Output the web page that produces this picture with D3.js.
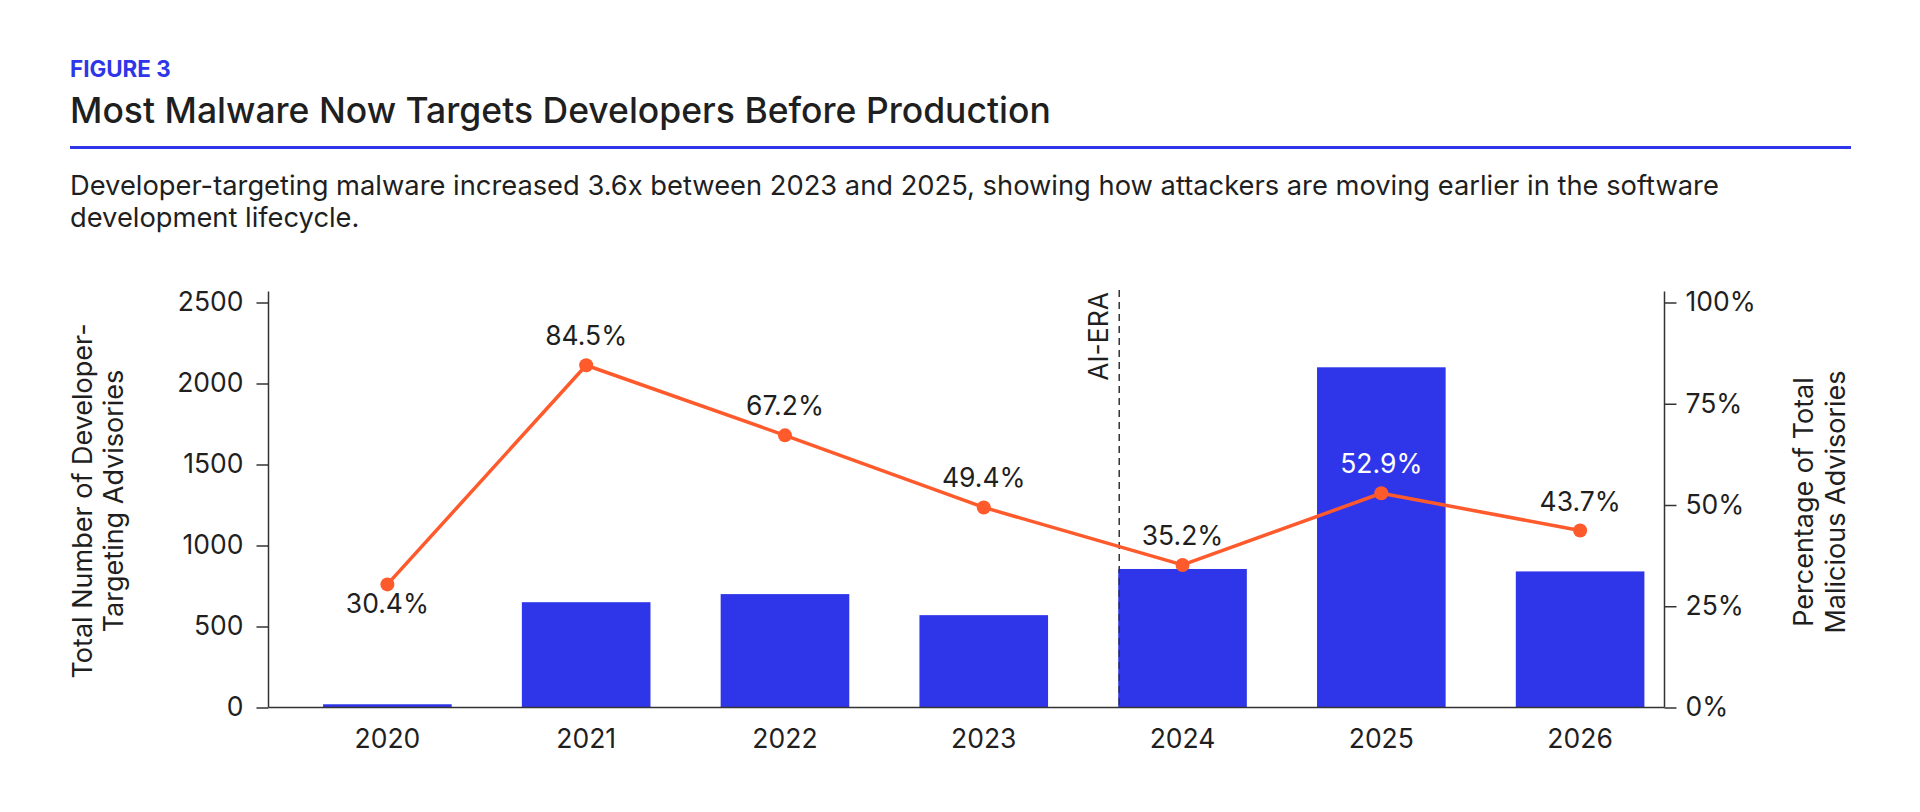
<!DOCTYPE html>
<html>
<head>
<meta charset="utf-8">
<script src="https://cdn.jsdelivr.net/npm/d3@7"></script>
<style>
  html, body { margin: 0; padding: 0; background: #fff; }
  svg { display: block; font-family: Inter, "Noto Sans", sans-serif; }
</style>
</head>
<body>
<div id="chart"></div>
<script>
// valores
const years = ["2020", "2021", "2022", "2023", "2024", "2025", "2026"];
const advisories = [20, 650, 700, 570, 855, 2100, 840];
const shareOfMalicious = [30.4, 84.5, 67.2, 49.4, 35.2, 52.9, 43.7];
const countTicks = [0, 500, 1000, 1500, 2000, 2500];
const pctTicks = [0, 25, 50, 75, 100];
const eraStart = "2024";

const BLUE = "#2f36e9";
const ORANGE = "#ff5a2c";
const INK = "#1f1f1f";
const NUM_SIZE = "26.5px";
const TITLE_SIZE = "27px";

const W = 1920, H = 812;
const svg = d3.select("#chart").append("svg").attr("width", W).attr("height", H);

// cabeçalho
svg.append("text").attr("x", 70).attr("y", 77)
  .attr("fill", BLUE).style("font-size", "22.4px").style("font-weight", 700)
  .text("FIGURE 3");

svg.append("text").attr("x", 70).attr("y", 123)
  .attr("fill", INK).style("font-size", "35.5px").style("font-weight", 500)
  .text("Most Malware Now Targets Developers Before Production");

svg.append("line").attr("x1", 70).attr("x2", 1851).attr("y1", 147.5).attr("y2", 147.5)
  .attr("stroke", BLUE).attr("stroke-width", 3);

const sub = svg.append("text").attr("fill", INK).style("font-size", "27.3px");
sub.append("tspan").attr("x", 70).attr("y", 195)
  .text("Developer-targeting malware increased 3.6x between 2023 and 2025, showing how attackers are moving earlier in the software");
sub.append("tspan").attr("x", 70).attr("y", 227).text("development lifecycle.");

// area do grafico
const plotLeft = 268.5, plotRight = 1664.5, plotBottom = 707.5, plotTop = 302.5;

const x = d3.scaleBand().domain(years).range([288, 1679.5])
  .paddingInner(0.353).paddingOuter(0.1765);
const yCount = d3.scaleLinear().domain([0, 2500]).range([plotBottom, plotTop]);
const yPct = d3.scaleLinear().domain([0, 100]).range([plotBottom, plotTop]);

const rows = years.map((yr, i) => ({ year: yr, count: advisories[i], pct: shareOfMalicious[i] }));

const g = svg.append("g");

// barras
g.selectAll(".bar").data(rows).enter().append("rect")
  .attr("class", "bar")
  .attr("x", d => x(d.year))
  .attr("width", x.bandwidth())
  .attr("y", d => yCount(d.count))
  .attr("height", d => plotBottom - yCount(d.count))
  .attr("fill", BLUE);

// eixos
const axisStyle = sel => {
  sel.select(".domain").remove();
  sel.selectAll(".tick line").attr("stroke", "#333").attr("stroke-width", 1.5);
  sel.selectAll(".tick text").attr("fill", INK).style("font-size", NUM_SIZE)
    .style("font-family", "Inter, 'Noto Sans', sans-serif");
};

g.append("g").attr("transform", `translate(${plotLeft},0)`)
  .call(d3.axisLeft(yCount).tickValues(countTicks).tickSize(12).tickPadding(13).tickFormat(d3.format("d")))
  .call(axisStyle);

g.append("g").attr("transform", `translate(${plotRight},0)`)
  .call(d3.axisRight(yPct).tickValues(pctTicks).tickSize(12).tickPadding(9).tickFormat(d => d + "%"))
  .call(axisStyle);

g.append("g").attr("transform", `translate(0,${plotBottom})`)
  .call(d3.axisBottom(x).tickSize(0).tickPadding(22))
  .call(axisStyle);

// linhas dos eixos
g.append("line").attr("x1", plotLeft).attr("x2", plotLeft).attr("y1", 291.5).attr("y2", plotBottom)
  .attr("stroke", "#333").attr("stroke-width", 1.5);
g.append("line").attr("x1", plotRight).attr("x2", plotRight).attr("y1", 291.5).attr("y2", plotBottom)
  .attr("stroke", "#333").attr("stroke-width", 1.5);
g.append("line").attr("x1", plotLeft).attr("x2", plotRight).attr("y1", plotBottom).attr("y2", plotBottom)
  .attr("stroke", "#333").attr("stroke-width", 1.5);

// marcador AI-ERA
const eraX = x(eraStart) + 1;
g.append("line").attr("x1", eraX).attr("x2", eraX).attr("y1", 290).attr("y2", plotBottom)
  .attr("stroke", "#333").attr("stroke-width", 1.5).attr("stroke-dasharray", "7,5");
g.append("text").attr("transform", `translate(${eraX - 11},292) rotate(-90)`)
  .attr("text-anchor", "end").attr("fill", INK).style("font-size", NUM_SIZE)
  .text("AI-ERA");

// linha percentual
const cx = d => x(d.year) + x.bandwidth() / 2;
g.append("path").datum(rows)
  .attr("fill", "none").attr("stroke", ORANGE).attr("stroke-width", 3.5)
  .attr("stroke-linejoin", "round")
  .attr("d", d3.line().x(cx).y(d => yPct(d.pct)));

g.selectAll(".dot").data(rows).enter().append("circle")
  .attr("class", "dot")
  .attr("cx", cx).attr("cy", d => yPct(d.pct)).attr("r", 7)
  .attr("fill", ORANGE);

g.selectAll(".pct-label").data(rows).enter().append("text")
  .attr("class", "pct-label")
  .attr("x", cx)
  .attr("y", (d, i) => i === 0 ? yPct(d.pct) + 29 : yPct(d.pct) - 20)
  .attr("text-anchor", "middle")
  .attr("fill", d => d.count > 1500 ? "#fff" : INK)
  .style("font-size", NUM_SIZE)
  .text(d => d.pct.toFixed(1) + "%");

// titulos dos eixos
const leftTitle = g.append("text").attr("transform", "translate(0,501) rotate(-90)")
  .attr("text-anchor", "middle").attr("fill", INK).style("font-size", TITLE_SIZE);
leftTitle.append("tspan").attr("x", 0).attr("y", 91.5).text("Total Number of Developer-");
leftTitle.append("tspan").attr("x", 0).attr("y", 122.5).text("Targeting Advisories");

const rightTitle = g.append("text").attr("transform", "translate(0,502) rotate(-90)")
  .attr("text-anchor", "middle").attr("fill", INK).style("font-size", TITLE_SIZE);
rightTitle.append("tspan").attr("x", 0).attr("y", 1812.5).text("Percentage of Total");
rightTitle.append("tspan").attr("x", 0).attr("y", 1844.5).text("Malicious Advisories");
</script>
</body>
</html>
